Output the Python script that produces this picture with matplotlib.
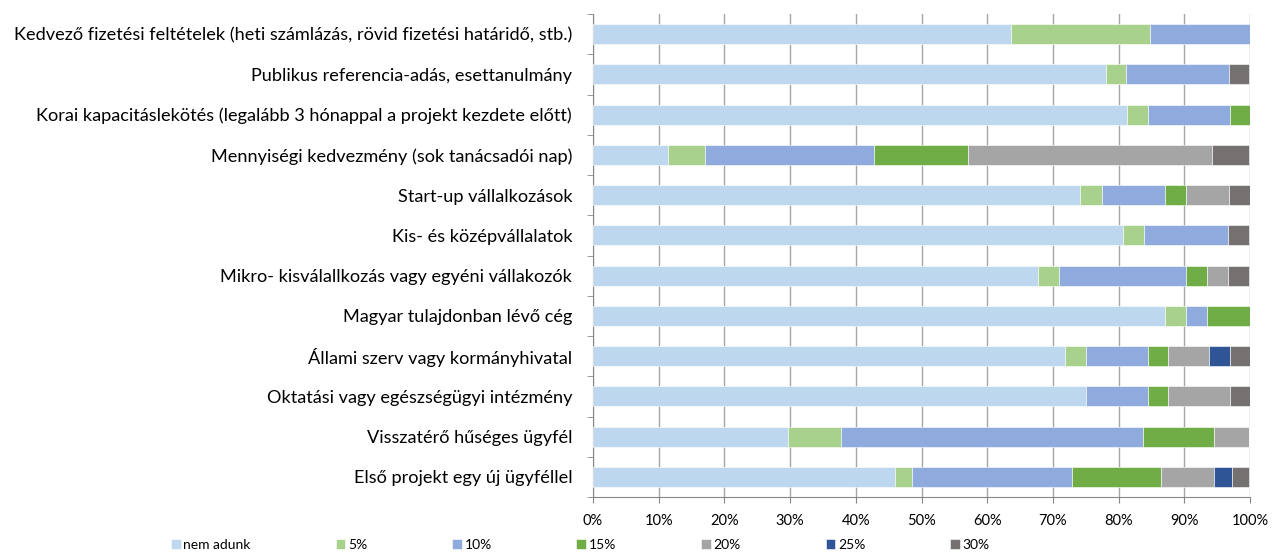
import matplotlib.pyplot as plt
import numpy as np

categories = [
    "Kedvező fizetési feltételek (heti számlázás, rövid fizetési határidő, stb.)",
    "Publikus referencia-adás, esettanulmány",
    "Korai kapacitáslekötés (legalább 3 hónappal a projekt kezdete előtt)",
    "Mennyiségi kedvezmény (sok tanácsadói nap)",
    "Start-up vállalkozások",
    "Kis- és középvállalatok",
    "Mikro- kisválallkozás vagy egyéni vállakozók",
    "Magyar tulajdonban lévő cég",
    "Állami szerv vagy kormányhivatal",
    "Oktatási vagy egészségügyi intézmény",
    "Visszatérő hűséges ügyfél",
    "Első projekt egy új ügyféllel",
]

series_names = ["nem adunk", "5%", "10%", "15%", "20%", "25%", "30%"]

# share of answers per category (percent), one list per series
nem_adunk = [63.6, 78.1, 81.3, 11.4, 74.2, 80.6, 67.7, 87.1, 71.9, 75.0, 29.7, 45.9]
p5 = [21.2, 3.1, 3.1, 5.7, 3.2, 3.2, 3.2, 3.2, 3.1, 0.0, 8.1, 2.7]
p10 = [15.2, 15.6, 12.5, 25.7, 9.7, 12.9, 19.4, 3.2, 9.4, 9.4, 45.9, 24.3]
p15 = [0.0, 0.0, 3.1, 14.3, 3.2, 0.0, 3.2, 6.5, 3.1, 3.1, 10.8, 13.5]
p20 = [0.0, 0.0, 0.0, 37.1, 6.5, 0.0, 3.2, 0.0, 6.3, 9.4, 5.4, 8.1]
p25 = [0.0, 0.0, 0.0, 0.0, 0.0, 0.0, 0.0, 0.0, 3.1, 0.0, 0.0, 2.7]
p30 = [0.0, 3.1, 0.0, 5.7, 3.2, 3.2, 3.2, 0.0, 3.1, 3.1, 0.0, 2.7]

colors = ["#BDD7EE", "#A9D18E", "#8FAADC", "#70AD47", "#A5A5A5", "#2F5597", "#767171"]

plt.rcParams['font.family'] = ['Lato', 'DejaVu Sans']

fig = plt.figure(figsize=(12.84, 5.55), dpi=100)
ax = fig.add_axes([593 / 1284, 1 - 497 / 555, 657 / 1284, 483 / 555])

y = np.arange(len(categories))
left = np.zeros(len(categories))
for name, vals, c in zip(series_names, [nem_adunk, p5, p10, p15, p20, p25, p30], colors):
    vals = np.array(vals)
    ax.barh(y, vals, left=left, height=0.5, color=c, label=name,
            edgecolor="white", linewidth=0.4, zorder=3)
    left += vals

ax.set_xlim(0, 100)
ax.set_ylim(len(categories) - 0.5, -0.5)
ax.set_xticks(np.arange(0, 101, 10))
ax.set_xticklabels([f"{v}%" for v in range(0, 101, 10)], fontsize=10.5)
ax.set_yticks(y)
ax.set_yticklabels(categories, fontsize=13.1)
ax.set_yticks(np.arange(-0.5, len(categories), 1), minor=True)
ax.tick_params(axis="y", which="major", length=0, pad=15)
ax.tick_params(axis="y", which="minor", length=4, color="#888888")
ax.tick_params(axis="x", length=4, color="#888888", pad=8)
ax.grid(axis="x", color="#A6A6A6", linewidth=1, zorder=0)
for s in ["top", "right"]:
    ax.spines[s].set_visible(False)
ax.spines["left"].set_color("#888888")
ax.spines["bottom"].set_color("#888888")

fig.legend(loc="center", bbox_to_anchor=(0.452, 1 - 545 / 555), ncol=7, frameon=False,
           fontsize=10, handlelength=0.7, handleheight=0.7, handletextpad=0.2,
           columnspacing=6.1)

fig.savefig("out.png", dpi=100)
